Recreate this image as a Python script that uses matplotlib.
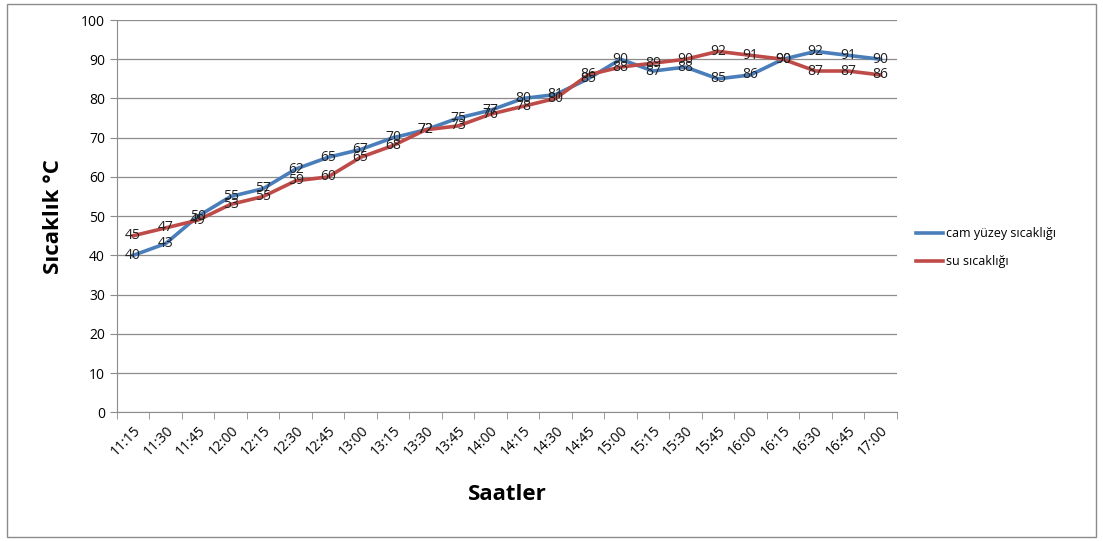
import numpy as np
import matplotlib.pyplot as plt
from matplotlib.patches import Rectangle

saatler = ["11:15", "11:30", "11:45", "12:00", "12:15", "12:30", "12:45", "13:00",
           "13:15", "13:30", "13:45", "14:00", "14:15", "14:30", "14:45", "15:00",
           "15:15", "15:30", "15:45", "16:00", "16:15", "16:30", "16:45", "17:00"]
cam = [40, 43, 50, 55, 57, 62, 65, 67, 70, 72, 75, 77, 80, 81, 85, 90, 87, 88, 85, 86, 90, 92, 91, 90]
su = [45, 47, 49, 53, 55, 59, 60, 65, 68, 72, 73, 76, 78, 80, 86, 88, 89, 90, 92, 91, 90, 87, 87, 86]

plt.rcParams['font.family'] = ['Open Sans', 'DejaVu Sans']

fig = plt.figure(figsize=(11.03, 5.41), dpi=100)
ax = fig.add_axes([0.106, 0.238, 0.707, 0.725])
fig.patches.append(Rectangle((0.006, 0.008), 0.988, 0.984, transform=fig.transFigure,
                             fill=False, edgecolor='#8c8c8c', linewidth=1))

x = np.arange(len(saatler))
ax.plot(x, cam, color='#4A7EBB', lw=2.6, label='cam yüzey sıcaklığı', zorder=3)
ax.plot(x, su, color='#BE4B48', lw=2.6, label='su sıcaklığı', zorder=3)
for xi, a, b in zip(x, cam, su):
    ax.text(xi, a, str(a), ha='center', va='center', fontsize=10, color='#222222', zorder=4)
    ax.text(xi, b, str(b), ha='center', va='center', fontsize=10, color='#222222', zorder=4)

ax.set_xlim(-0.5, len(saatler) - 0.5)
ax.set_ylim(0, 100)
ax.set_yticks(range(0, 101, 10))
ax.yaxis.grid(True, color='#8c8c8c', lw=0.9)
ax.set_axisbelow(True)
ax.set_xticks(x)
ax.set_xticklabels(saatler, rotation=45, ha='right', rotation_mode='anchor', fontsize=10)
ax.set_xticks(np.arange(-0.5, len(saatler)), minor=True)
ax.tick_params(axis='x', which='major', length=0, pad=8)
ax.tick_params(axis='x', which='minor', length=5, color='#8c8c8c')
ax.tick_params(axis='y', length=5, color='#8c8c8c', labelsize=10)
for s in ('top', 'right'):
    ax.spines[s].set_visible(False)
for s in ('left', 'bottom'):
    ax.spines[s].set_color('#8c8c8c')

ax.set_xlabel('Saatler', fontsize=16, fontweight='bold', labelpad=18)
ax.set_ylabel('Sıcaklık °C', fontsize=16, fontweight='bold', labelpad=12)

ax.legend(loc='center left', bbox_to_anchor=(1.01, 0.42), frameon=False, fontsize=9,
          handlelength=2.2, handletextpad=0.2, labelspacing=1.2)

fig.savefig('out.png', dpi=100)
